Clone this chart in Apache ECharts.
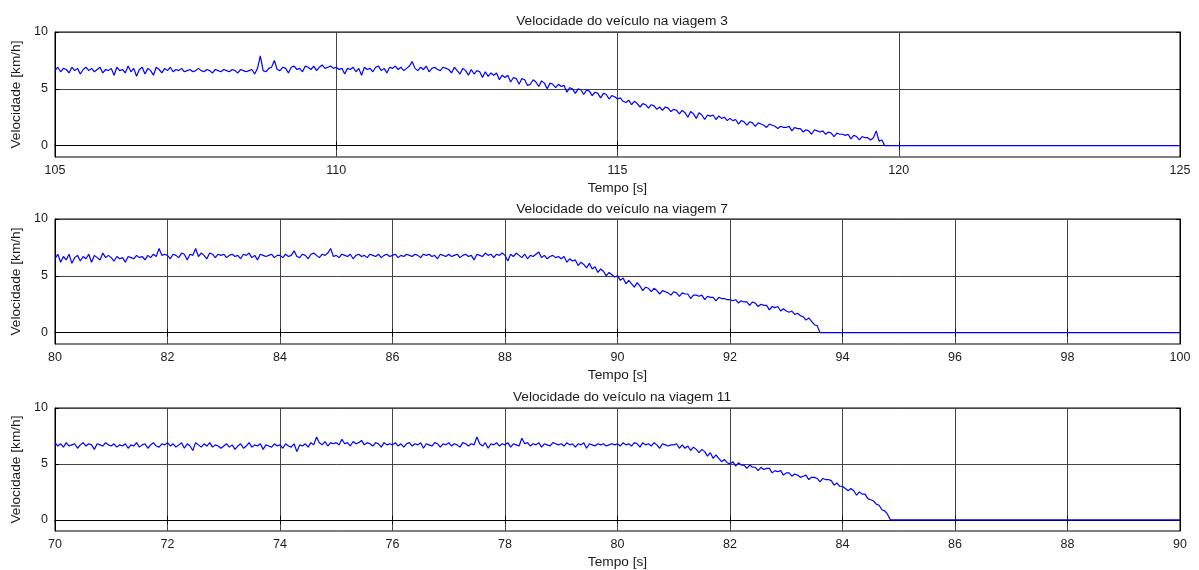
<!DOCTYPE html>
<html>
<head>
<meta charset="utf-8">
<title>Velocidade do veículo</title>
<script src="https://cdn.jsdelivr.net/npm/echarts@6/dist/echarts.min.js"></script>
<style>
  html, body { margin: 0; padding: 0; background: #fff; }
  #chart { width: 1199px; height: 570px; }
</style>
</head>
<body>
<div id="chart"></div>
<script>
// Sampled speed (km/h) of each trip, one value every 0.05 s from the start time,
// until the vehicle stops; after the stop the speed stays at zero.
const sampleStep = 0.05;

const trip3Title = 'Velocidade do veículo na viagem 3';
const trip3Start = 105;
const trip3Stop = 119.75;
const trip3Range = [105, 125];
const trip3Ticks = 5;
const trip3Speed = [
  6.6,6.9,6.5,6.8,6.7,6.4,6.9,6.6,6.8,6.3,6.7,6.9,6.6,6.8,6.5,6.7,6.9,6.4,6.7,6.6,
  6.8,6.2,6.9,6.6,6.7,6.4,7.0,6.5,6.8,6.1,6.7,6.9,6.3,6.8,6.6,6.2,6.9,6.7,6.4,6.8,
  6.6,6.9,6.5,6.7,6.6,6.8,6.5,6.6,6.7,6.5,6.6,6.8,6.6,6.5,6.7,6.6,6.4,6.7,6.6,6.5,
  6.7,6.6,6.5,6.7,6.6,6.4,6.7,6.6,6.5,6.6,6.7,6.3,6.8,7.9,6.6,6.5,6.8,6.9,7.5,6.7,
  6.6,6.9,6.8,6.4,6.9,7.0,6.7,6.8,6.5,7.0,6.9,6.7,7.0,6.6,6.9,7.1,6.8,6.9,7.0,6.8,
  6.9,6.7,6.8,6.3,6.8,6.7,6.9,6.5,6.8,6.2,6.9,6.7,6.8,6.5,6.9,7.0,6.6,6.8,6.4,6.9,
  6.8,7.0,6.7,6.9,6.6,6.8,7.0,7.4,6.8,6.6,6.9,6.7,7.0,6.5,6.8,6.9,6.7,6.6,6.9,6.8,
  6.7,6.4,6.9,6.6,6.3,6.8,6.6,6.2,6.7,6.3,6.6,6.5,6.0,6.5,6.1,6.4,6.2,6.4,5.8,6.2,
  6.0,6.2,5.6,6.0,5.9,5.4,5.9,5.8,5.3,5.4,5.8,5.6,5.2,5.7,5.5,5.0,5.5,5.4,5.1,5.4,
  5.2,5.3,4.7,5.1,5.0,4.6,5.0,4.9,4.5,4.9,4.8,4.4,4.7,4.6,4.2,4.6,4.5,4.1,4.4,4.3,
  4.1,4.2,3.9,3.8,4.0,3.6,3.9,3.7,3.4,3.7,3.6,3.3,3.6,3.5,3.2,3.4,3.1,3.4,3.3,3.0,
  3.2,3.1,2.8,3.1,2.9,2.5,3.0,2.8,2.4,2.9,2.7,2.3,2.7,2.6,2.7,2.3,2.6,2.4,2.5,2.2,
  2.4,2.2,2.3,1.9,2.2,2.1,1.8,2.1,2.0,1.7,2.0,1.9,1.8,1.6,1.9,1.8,1.7,1.5,1.7,1.6,
  1.6,1.7,1.3,1.6,1.5,1.5,1.2,1.4,1.3,1.0,1.4,1.3,1.2,1.3,1.0,1.2,1.1,0.8,1.1,1.0,
  1.0,0.9,1.0,0.6,0.9,0.8,0.5,0.8,0.7,0.7,0.5,0.7,1.3,0.4,0.5
];

const trip7Title = 'Velocidade do veículo na viagem 7';
const trip7Start = 80;
const trip7Stop = 93.6;
const trip7Range = [80, 100];
const trip7Ticks = 2;
const trip7Speed = [
  6.5,6.9,6.2,6.7,6.4,6.9,6.1,6.6,6.8,6.3,6.7,6.5,6.9,6.2,6.8,6.6,6.4,7.0,6.6,6.8,
  6.6,6.3,6.7,6.5,6.6,6.2,6.7,6.6,6.5,6.8,6.6,6.7,6.4,6.8,6.6,6.9,6.7,7.4,6.8,6.9,
  6.8,6.5,6.9,6.8,6.6,7.0,6.9,6.4,6.9,6.8,7.4,6.7,7.0,6.8,6.5,7.0,6.9,6.6,6.9,6.8,
  6.9,6.6,6.8,6.9,6.7,6.8,6.5,6.9,6.8,7.0,6.6,6.8,6.4,6.9,6.8,6.7,6.8,6.9,6.6,6.8,
  6.8,6.6,6.9,6.7,6.8,7.2,6.7,6.6,6.9,6.8,6.5,6.9,7.0,6.8,6.6,6.9,6.8,7.0,7.4,6.7,
  6.8,6.6,6.9,6.8,6.7,6.9,6.5,6.8,6.9,6.7,6.8,6.6,6.9,6.8,6.7,6.9,6.6,6.8,6.9,6.7,
  6.8,6.9,6.6,6.8,6.7,6.9,6.8,6.7,6.9,6.8,6.6,6.9,6.8,6.9,6.7,6.8,6.5,6.9,6.8,6.7,
  6.9,6.7,6.8,6.9,6.6,6.8,6.9,6.7,6.8,6.4,6.9,6.8,6.7,7.0,6.8,6.9,6.6,6.9,6.8,7.0,
  6.8,6.3,6.9,6.7,7.0,6.8,6.6,6.9,6.5,6.8,6.7,6.9,7.1,6.6,6.8,6.5,6.7,6.8,6.6,6.7,
  6.5,6.7,6.2,6.5,6.3,6.4,5.9,6.2,6.0,5.7,6.1,5.6,5.8,5.3,5.6,5.4,5.0,5.3,5.1,4.9,
  5.0,4.6,4.8,4.3,4.6,4.3,4.0,4.4,4.1,3.7,4.0,3.9,3.6,3.9,3.7,3.4,3.7,3.6,3.5,3.3,
  3.6,3.5,3.2,3.5,3.4,3.4,3.0,3.3,3.3,3.2,3.3,2.9,3.2,3.1,3.1,2.8,3.1,3.0,3.0,2.9,
  2.9,2.8,2.9,2.6,2.8,2.7,2.7,2.4,2.7,2.6,2.3,2.5,2.4,2.4,2.0,2.3,2.2,2.3,1.9,2.1,
  1.9,1.8,1.9,1.6,1.7,1.5,1.4,1.1,1.3,1.0,0.7,0.6
];

const trip11Title = 'Velocidade do veículo na viagem 11';
const trip11Start = 70;
const trip11Stop = 84.85;
const trip11Range = [70, 90];
const trip11Ticks = 2;
const trip11Speed = [
  6.9,6.6,6.8,6.5,6.9,6.6,6.7,6.8,6.4,6.7,6.9,6.6,6.8,6.7,6.3,6.8,6.7,6.6,6.9,6.7,
  6.6,6.8,6.5,6.7,6.6,6.8,6.4,6.7,6.6,6.9,6.5,6.7,6.8,6.4,6.7,6.9,6.6,6.5,6.8,6.7,
  6.9,6.6,6.8,6.5,6.7,6.9,6.4,6.8,6.6,6.2,6.9,6.7,6.5,6.8,6.6,6.9,6.5,6.7,6.6,6.4,
  6.6,6.8,6.5,6.7,6.3,6.6,6.8,6.4,6.6,6.9,6.5,6.7,6.6,6.8,6.3,6.7,6.6,6.5,6.8,6.6,
  6.7,6.4,6.8,6.6,6.5,6.8,6.1,6.7,6.6,6.8,6.5,6.9,6.7,7.4,6.9,6.7,7.0,6.6,6.9,6.8,
  6.9,6.7,7.2,6.8,6.9,6.6,7.0,6.8,6.9,7.1,6.7,6.9,6.8,6.6,6.9,6.8,6.5,6.9,6.7,6.8,
  6.7,6.9,6.6,6.8,6.5,6.8,6.9,6.6,6.8,6.7,6.9,6.4,6.8,6.7,6.6,6.9,6.8,6.5,6.8,6.7,
  6.9,6.6,6.8,6.7,6.5,6.9,6.8,6.6,6.8,6.7,7.4,6.8,6.6,6.9,6.4,6.8,6.7,6.9,6.6,6.8,
  6.7,6.9,6.5,6.8,6.7,6.6,7.3,6.8,6.9,6.6,6.8,6.7,6.9,6.5,6.8,6.7,6.6,6.9,6.8,6.7,
  6.8,6.6,6.9,6.7,6.8,6.5,6.8,6.7,6.9,6.4,6.8,6.7,6.6,6.8,6.7,6.8,6.6,6.7,6.8,6.7,
  6.8,6.6,6.9,6.7,6.8,6.6,6.9,6.8,6.5,6.9,6.7,6.8,6.6,6.9,6.7,6.4,6.8,6.7,6.6,6.7,
  6.7,6.8,6.4,6.7,6.4,6.6,6.2,6.5,6.3,6.0,6.3,6.1,5.7,6.0,5.5,5.8,5.5,5.2,5.4,5.1,
  5.0,5.2,4.8,5.1,4.9,4.9,4.6,4.9,4.7,4.7,4.4,4.7,4.5,4.6,4.6,4.2,4.4,4.3,4.4,4.0,
  4.2,4.2,3.9,4.1,4.0,3.8,3.9,4.0,3.6,3.8,3.8,3.7,3.4,3.7,3.6,3.6,3.5,3.1,3.3,3.0,
  3.0,2.8,2.6,2.8,2.6,2.2,2.5,2.3,2.3,1.9,1.8,1.7,1.4,1.3,0.9,0.8,0.5
];

const speedTicks = [0, 5, 10];
const speedRange = [-1, 10];
const xName = 'Tempo [s]';
const yName = 'Velocidade [km/h]';

// Turn a sampled trip into [time, speed] points, holding zero after the stop.
function tripPoints(start, speed, stop, end) {
  const pts = speed.map((v, i) => [+(start + i * sampleStep).toFixed(2), v]);
  pts.push([stop, 0], [end, 0]);
  return pts;
}

const trips = [
  { title: trip3Title, start: trip3Start, stop: trip3Stop, range: trip3Range, tick: trip3Ticks, speed: trip3Speed },
  { title: trip7Title, start: trip7Start, stop: trip7Stop, range: trip7Range, tick: trip7Ticks, speed: trip7Speed },
  { title: trip11Title, start: trip11Start, stop: trip11Stop, range: trip11Range, tick: trip11Ticks, speed: trip11Speed }
];

const FONT = '"Liberation Sans", Arial, Helvetica, sans-serif';
const TEXT = '#1a1a1a';
const GRIDLINE = '#444';
const panelTops = [32, 219, 408];
const panelHeight = 125;
const titleTops = [9, 197, 385];

const option = {
  animation: false,
  backgroundColor: '#fff',
  title: [], grid: [], xAxis: [], yAxis: [], series: []
};

trips.forEach((trip, k) => {
  option.title.push({
    text: trip.title, left: 617, top: titleTops[k], textAlign: 'center',
    textStyle: { fontFamily: FONT, fontSize: 13.7, fontWeight: 'normal', color: TEXT }
  });
  option.grid.push({
    left: 55, right: 19, top: panelTops[k], height: panelHeight,
    show: true, borderColor: '#000', borderWidth: 1, backgroundColor: 'transparent'
  });
  // bottom time axis with labels and vertical grid lines
  option.xAxis.push({
    gridIndex: k, type: 'value', position: 'bottom',
    min: trip.range[0], max: trip.range[1], interval: trip.tick,
    name: xName, nameLocation: 'middle', nameGap: 24,
    nameTextStyle: { fontFamily: FONT, fontSize: 13.7, color: TEXT },
    axisLine: { show: true, lineStyle: { color: '#000', width: 1 } },
    axisTick: { show: true, inside: true, length: 4, lineStyle: { color: '#000' } },
    axisLabel: { fontFamily: FONT, fontSize: 12.5, color: TEXT, margin: 7 },
    splitLine: { show: true, lineStyle: { color: GRIDLINE, width: 1 } }
  });
  // top edge ticks of the box
  option.xAxis.push({
    gridIndex: k, type: 'value', position: 'top',
    min: trip.range[0], max: trip.range[1], interval: trip.tick,
    axisLine: { show: true, lineStyle: { color: '#000', width: 1 } },
    axisTick: { show: true, inside: true, length: 4, lineStyle: { color: '#000' } },
    axisLabel: { show: false }, splitLine: { show: false }
  });
  // left speed axis with labels and horizontal grid lines
  option.yAxis.push({
    gridIndex: k, type: 'value', position: 'left',
    min: speedRange[0], max: speedRange[1],
    name: yName, nameLocation: 'middle', nameGap: 28, nameRotate: 90,
    nameTextStyle: { fontFamily: FONT, fontSize: 13.7, color: TEXT },
    axisLine: { show: true, lineStyle: { color: '#000', width: 1 } },
    axisTick: { show: true, inside: true, length: 4, customValues: speedTicks, lineStyle: { color: '#000' } },
    axisLabel: { fontFamily: FONT, fontSize: 12.5, color: TEXT, margin: 7, customValues: speedTicks },
    splitLine: { show: true, lineStyle: { color: GRIDLINE, width: 1 } }
  });
  // right edge ticks of the box
  option.yAxis.push({
    gridIndex: k, type: 'value', position: 'right',
    min: speedRange[0], max: speedRange[1],
    axisLine: { show: true, lineStyle: { color: '#000', width: 1 } },
    axisTick: { show: true, inside: true, length: 4, customValues: speedTicks, lineStyle: { color: '#000' } },
    axisLabel: { show: false, customValues: speedTicks }, splitLine: { show: false }
  });
  option.series.push({
    type: 'line', xAxisIndex: 2 * k, yAxisIndex: 2 * k,
    data: tripPoints(trip.start, trip.speed, trip.stop, trip.range[1]),
    showSymbol: false, symbol: 'none',
    lineStyle: { color: '#0000ff', width: 1.2 },
    itemStyle: { color: '#0000ff' },
    z: 5
  });
});

const chart = echarts.init(document.getElementById('chart'), null, { renderer: 'canvas' });
chart.setOption(option);
</script>
</body>
</html>
